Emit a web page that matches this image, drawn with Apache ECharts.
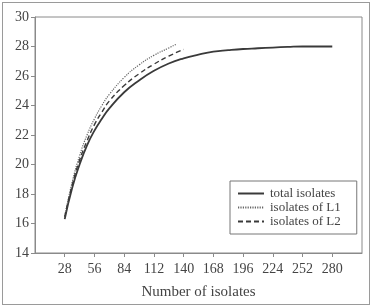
<!DOCTYPE html>
<html>
<head>
<meta charset="utf-8">
<script src="https://cdn.jsdelivr.net/npm/echarts@6/dist/echarts.min.js"></script>
<style>
  html, body { margin: 0; padding: 0; background: #fff; }
  #wrap { width: 366px; height: 301px; margin: 2px; border: 1px solid #9a9a9a; position: relative; }
  #main { width: 372px; height: 307px; position: absolute; left: -3px; top: -3px; }
</style>
</head>
<body>
<div id="wrap"><div id="main"></div></div>
<script>
  // sample sizes (x) and estimated values
  var xTotal = [28, 35, 42, 49, 56, 63, 70, 84, 98, 112, 126, 140, 154, 168, 182, 196, 210, 224, 238, 252, 266, 280];
  var yTotal = [16.3, 18.4, 20.0, 21.3, 22.3, 23.1, 23.8, 24.9, 25.7, 26.35, 26.85, 27.2, 27.45, 27.65, 27.75, 27.83, 27.88, 27.93, 27.97, 28.0, 28.0, 28.0];
  var xL1 = [28, 35, 42, 49, 56, 63, 70, 84, 98, 112, 126, 133];
  var yL1 = [16.5, 18.8, 20.6, 22.0, 23.1, 24.0, 24.75, 25.9, 26.75, 27.4, 27.9, 28.15];
  var xL2 = [28, 35, 42, 49, 56, 63, 70, 84, 98, 112, 126, 140];
  var yL2 = [16.45, 18.6, 20.3, 21.6, 22.7, 23.55, 24.3, 25.35, 26.15, 26.8, 27.35, 27.8];
  var xTicks = [28, 56, 84, 112, 140, 168, 196, 224, 252, 280];

  function pairs(xs, ys) {
    return xs.map(function (x, i) { return [x, ys[i]]; });
  }

  var font = 'Liberation Serif';
  var myChart = echarts.init(document.getElementById('main'));

  var option = {
    animation: false,
    grid: {
      left: 35, top: 17, right: 10, bottom: 54,
      show: true, borderColor: '#8a8a8a', borderWidth: 1
    },
    legend: {
      orient: 'vertical',
      left: 230, top: 181,
      width: 112,
      padding: [6, 16, 6, 7],
      itemGap: 1,
      itemWidth: 26, itemHeight: 10,
      itemStyle: { opacity: 0 },
      borderColor: '#777', borderWidth: 1,
      textStyle: { fontFamily: font, fontSize: 13, color: '#444', padding: [0, 0, 0, 1] },
      data: ['total isolates', 'isolates of L1', 'isolates of L2']
    },
    xAxis: {
      type: 'value',
      min: 0, max: 308,
      name: 'Number of isolates',
      nameLocation: 'middle',
      nameGap: 32,
      nameTextStyle: { fontFamily: font, fontSize: 15, color: '#444' },
      splitLine: { show: false },
      axisLine: { lineStyle: { color: '#8a8a8a' } },
      axisTick: { length: 4, customValues: xTicks, lineStyle: { color: '#8a8a8a' } },
      axisLabel: { customValues: xTicks, margin: 9, fontFamily: font, fontSize: 14, color: '#444' }
    },
    yAxis: {
      type: 'value',
      min: 14, max: 30, interval: 2,
      splitLine: { show: false },
      axisLine: { show: true, lineStyle: { color: '#8a8a8a' } },
      axisTick: { show: true, length: 4, lineStyle: { color: '#8a8a8a' } },
      axisLabel: { margin: 6, fontFamily: font, fontSize: 14, color: '#444' }
    },
    series: [
      {
        name: 'total isolates', type: 'line', smooth: true, symbol: 'none',
        lineStyle: { color: '#3a3a3a', width: 1.8 },
        itemStyle: { color: '#3a3a3a' },
        data: pairs(xTotal, yTotal)
      },
      {
        name: 'isolates of L1', type: 'line', smooth: true, symbol: 'none',
        lineStyle: { color: '#666', width: 1.2, type: [1.2, 1.2] },
        itemStyle: { color: '#666' },
        data: pairs(xL1, yL1)
      },
      {
        name: 'isolates of L2', type: 'line', smooth: true, symbol: 'none',
        lineStyle: { color: '#3a3a3a', width: 1.4, type: [5, 3] },
        itemStyle: { color: '#3a3a3a' },
        data: pairs(xL2, yL2)
      }
    ]
  };

  myChart.setOption(option);
</script>
</body>
</html>
